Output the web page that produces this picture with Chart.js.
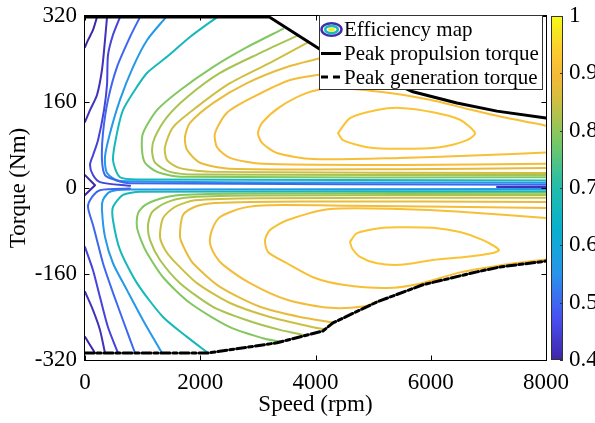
<!DOCTYPE html>
<html><head><meta charset="utf-8">
<script src="https://cdn.jsdelivr.net/npm/chart.js@4.4.1/dist/chart.umd.min.js"></script>
<style>html,body{margin:0;padding:0;background:#fff;}#wrap{width:595px;height:423px;}</style>
</head><body><div id="wrap"><canvas id="c" width="595" height="423"></canvas></div>
<script>
// ---------------- data ----------------
const speedTicks = [0, 2000, 4000, 6000, 8000];
const torqueTicks = [-320, -160, 0, 160, 320];
const efficiencyTicks = [0.4, 0.5, 0.6, 0.7, 0.8, 0.9, 1];
const legendLabels = ['Efficiency map', 'Peak propulsion torque', 'Peak generation torque'];

// [speed rpm, torque Nm]
const peakPropulsion = [[0,318],[3200,318],[4077,258],[5691,179],[6454,158],[7148,143],[8000,130]];
const peakGeneration = [[0,-307],[2134,-307],[3331,-288],[4129,-266],[4303,-251],[5066,-212],[5864,-180],[6801,-156],[7200,-147],[8000,-136]];

// efficiency contour lines, [speed rpm, torque Nm]
const eff040_up  = [[208,318],[139,294],[52,275],[0,262]];
const eff040_mid = [[0,24],[174,5],[0,-13]];
const eff040_low = [[0,-277],[87,-292],[174,-307]];
const eff042_up  = [[382,318],[347,275],[295,220],[208,173],[87,145],[0,123]];
const eff042_mid = [[7150,2],[8000,2]];
const eff042_low = [[0,-193],[139,-227],[260,-264],[347,-307]];
const eff045_up  = [[607,318],[486,285],[399,247],[382,192],[330,145],[226,89],[139,61],[87,43],[139,24],[260,11],[781,4]];
const eff045_low = [[0,-110],[139,-153],[260,-203],[399,-259],[573,-307]];
const eff050_up  = [[954,318],[781,281],[555,225],[399,164],[312,102],[295,52],[347,24],[521,15],[781,9],[8000,6]];
const eff050_low = [[781,-1],[260,-4],[121,-17],[52,-35],[139,-69],[208,-97],[312,-140],[486,-195],[659,-246],[868,-307]];
const eff056_up  = [[1406,318],[1076,275],[833,225],[607,164],[434,102],[347,58],[382,28],[607,13],[8000,10]];
const eff056_low = [[8000,-2],[781,-3],[434,-7],[312,-22],[295,-41],[347,-91],[486,-140],[729,-190],[1007,-246],[1336,-307]];
const eff067_up  = [[2291,318],[1822,281],[1423,244],[1076,214],[833,177],[659,145],[555,102],[486,52],[607,20],[954,16],[8000,14]];
const eff067_low = [[8000,-6],[954,-7],[659,-13],[486,-35],[486,-60],[607,-115],[902,-177],[1354,-240],[1770,-277],[2135,-307]];
const eff079_up  = [[3436,296],[2811,262],[2221,225],[1649,182],[1249,145],[1007,102],[989,71],[1041,47],[1249,30],[1649,21],[8000,20]];
const eff079_low = [[8000,-9],[2863,-10],[1649,-13],[1302,-20],[1041,-32],[920,-47],[902,-73],[972,-97],[1076,-121],[1354,-166],[1822,-214],[2516,-259],[3072,-279],[3384,-286]];
const eff082_up  = [[3679,283],[3037,251],[2343,214],[1770,169],[1423,132],[1215,95],[1163,71],[1215,47],[1475,30],[1944,25],[8000,24]];
const eff082_low = [[8000,-13],[2863,-14],[1735,-18],[1388,-28],[1163,-45],[1093,-69],[1128,-97],[1302,-134],[1649,-177],[2221,-221],[2811,-246],[3384,-264],[3818,-274]];
const eff085_up  = [[3853,270],[3210,233],[2516,195],[1944,151],[1527,113],[1388,76],[1423,52],[1649,37],[2221,30],[8000,28]];
const eff085_low = [[8000,-18],[3037,-19],[1909,-23],[1562,-35],[1354,-56],[1302,-91],[1388,-115],[1527,-134],[1944,-177],[2516,-214],[3210,-240],[3957,-259],[4165,-263]];
const eff088_up  = [[4252,246],[3506,225],[2811,195],[2221,158],[1822,121],[1735,95],[1770,71],[1996,47],[2516,36],[5467,35],[8000,37]];
const eff088_low = [[8000,-26],[3731,-25],[2256,-28],[1909,-35],[1701,-50],[1649,-91],[1735,-115],[1874,-140],[2343,-184],[3037,-221],[3731,-240],[4304,-250]];
const eff090_up  = [[4600,222],[4252,214],[3558,201],[2915,169],[2464,140],[2256,102],[2291,76],[2516,56],[3090,45],[5467,43],[8000,45]];
const eff090_low = [[8000,-37],[4599,-33],[3210,-32],[2742,-37],[2343,-54],[2204,-78],[2169,-102],[2256,-125],[2397,-143],[2863,-177],[3506,-208],[4252,-223],[4859,-220],[5067,-211]];
const eff091_up  = [[8000,116],[7202,133],[6681,146],[5987,164],[5119,179],[4252,186],[3853,177],[3384,151],[3072,121],[3002,102],[3072,84],[3332,65],[3957,54],[5467,56],[6855,61],[8000,66]];
const eff091_low = [[8000,-56],[6629,-45],[5467,-39],[4252,-39],[3506,-60],[3210,-78],[3124,-97],[3176,-119],[3506,-140],[3957,-166],[4477,-180],[5241,-186],[5814,-178],[6508,-157],[7202,-144],[8000,-133]];
const eff092_up  = [[4391,102],[4599,130],[5067,145],[5467,149],[6039,141],[6508,127],[6768,102],[6629,89],[6161,76],[5467,73],[4894,76],[4477,89],[4391,102]];
const eff092_low = [[4599,-100],[4720,-84],[5171,-74],[5467,-73],[6039,-74],[6508,-82],[6907,-97],[7185,-115],[7080,-121],[6629,-128],[6039,-134],[5467,-143],[5067,-140],[4772,-128],[4634,-112],[4599,-100]];

const contourLevels = [0.40,0.40,0.40,0.42,0.42,0.42,0.45,0.45,0.50,0.50,0.56,0.56,0.67,0.67,0.79,0.79,0.82,0.82,0.85,0.85,0.88,0.88,0.90,0.90,0.91,0.91,0.92,0.92];
const contourLines  = [eff040_up,eff040_mid,eff040_low,eff042_up,eff042_mid,eff042_low,eff045_up,eff045_low,eff050_up,eff050_low,eff056_up,eff056_low,eff067_up,eff067_low,eff079_up,eff079_low,eff082_up,eff082_low,eff085_up,eff085_low,eff088_up,eff088_low,eff090_up,eff090_low,eff091_up,eff091_low,eff092_up,eff092_low];

// ---------------- style ----------------
const CB_MIN = 0.4, CB_MAX = 1.0;
const parulaStops = [[0,62,38,168],[0.127,72,82,244],[0.254,39,150,235],[0.381,8,176,205],[0.508,35,190,170],[0.635,120,200,100],[0.762,214,190,62],[0.825,243,186,58],[0.889,254,200,49],[0.952,245,229,34],[1,249,251,21]];
function parula(f){
  f = Math.max(0, Math.min(1, f));
  for (let i = 1; i < parulaStops.length; i++){
    const a = parulaStops[i-1], b = parulaStops[i];
    if (f <= b[0]){
      const t = (f - a[0]) / (b[0] - a[0]);
      const c = [1,2,3].map(k => Math.round(a[k] + (b[k]-a[k])*t));
      return `rgb(${c[0]},${c[1]},${c[2]})`;
    }
  }
  return 'rgb(249,251,21)';
}
const levelColor = v => parula((v - CB_MIN)/(CB_MAX - CB_MIN));
const FONT = '"Liberation Serif", "Times New Roman", Times, serif';
const axisFont = {family: FONT, size: 23};
const toXY = arr => arr.map(p => ({x: p[0], y: p[1]}));
const hiddenGrid = len => ({display: true, drawOnChartArea: false, drawTicks: true, tickLength: len, color: 'rgba(0,0,0,0)'});

const datasets = [
  {label: legendLabels[1], data: toXY(peakPropulsion), borderColor: '#000', borderWidth: 3, tension: 0},
  {label: legendLabels[2], data: toXY(peakGeneration), borderColor: '#000', borderWidth: 3, borderDash: [9,3,4,3], tension: 0}
];
contourLines.forEach((line, i) => {
  datasets.push({label: legendLabels[0], data: toXY(line), borderColor: levelColor(contourLevels[i]), borderWidth: 2, tension: line.length > 3 ? 0.25 : 0});
});

const decor = {
  id: 'decor',
  beforeDatasetsDraw(chart){
    const {ctx, chartArea: a, scales: {cb}} = chart;
    const x0 = a.right + 5, w = 12;
    const yTop = cb.getPixelForValue(CB_MAX), yBot = cb.getPixelForValue(CB_MIN);
    const g = ctx.createLinearGradient(0, yBot, 0, yTop);
    for (let i = 0; i <= 40; i++){ g.addColorStop(i/40, parula(i/40)); }
    ctx.save();
    ctx.fillStyle = g;
    ctx.fillRect(x0, yTop, w, yBot - yTop);
    ctx.strokeStyle = '#333'; ctx.lineWidth = 1;
    ctx.strokeRect(x0 + 0.5, yTop + 0.5, w - 1, yBot - yTop - 1);
    efficiencyTicks.forEach(v => {
      const yy = Math.round(cb.getPixelForValue(v)) + 0.5;
      ctx.beginPath(); ctx.moveTo(x0 + w, yy); ctx.lineTo(x0 + w - 3, yy); ctx.stroke();
    });
    ctx.restore();
  },
  afterDatasetsDraw(chart){
    const {ctx, chartArea: a, scales: {x, y}} = chart;
    ctx.save();
    ctx.strokeStyle = '#000'; ctx.lineWidth = 1;
    const L = a.left - 0.5, R = a.right + 0.5, T = a.top - 0.5, B = a.bottom + 0.5;
    ctx.strokeRect(L, T, R - L, B - T);
    const tl = 5;
    ctx.beginPath();
    speedTicks.forEach(v => {
      const px = Math.round(x.getPixelForValue(v)) + 0.5;
      ctx.moveTo(px, B); ctx.lineTo(px, B - tl);
      ctx.moveTo(px, T); ctx.lineTo(px, T + tl);
    });
    torqueTicks.forEach(v => {
      const py = Math.round(y.getPixelForValue(v)) + 0.5;
      ctx.moveTo(L, py); ctx.lineTo(L + tl, py);
      ctx.moveTo(R, py); ctx.lineTo(R - tl, py);
    });
    ctx.stroke();

    // legend
    const bx = 319.5, by = 15.5, bw = 223, bh = 74;
    ctx.fillStyle = '#fff';
    ctx.fillRect(bx, by, bw, bh);
    ctx.strokeStyle = '#333'; ctx.lineWidth = 1;
    ctx.strokeRect(bx, by, bw, bh);
    const rows = [29.5, 53.5, 77];
    const cx = 331.5;
    ctx.lineWidth = 2.5;
    ctx.strokeStyle = parula(0.02);
    ctx.beginPath(); ctx.ellipse(cx, rows[0], 10, 6.3, 0, 0, Math.PI*2); ctx.stroke();
    ctx.strokeStyle = parula(0.47);
    ctx.beginPath(); ctx.ellipse(cx, rows[0], 6.3, 3.6, 0, 0, Math.PI*2); ctx.stroke();
    ctx.fillStyle = parula(0.97);
    ctx.beginPath(); ctx.ellipse(cx, rows[0], 3.5, 1.8, 0, 0, Math.PI*2); ctx.fill();
    ctx.strokeStyle = '#000'; ctx.lineWidth = 3;
    ctx.beginPath(); ctx.moveTo(321, rows[1]); ctx.lineTo(341, rows[1]); ctx.stroke();
    ctx.setLineDash([7,5]);
    ctx.beginPath(); ctx.moveTo(321, rows[2]); ctx.lineTo(341, rows[2]); ctx.stroke();
    ctx.setLineDash([]);
    ctx.fillStyle = '#000';
    ctx.font = '21px ' + FONT;
    ctx.textBaseline = 'middle'; ctx.textAlign = 'left';
    legendLabels.forEach((t, i) => ctx.fillText(t, 344, rows[i] + 1));
    ctx.restore();
  }
};

new Chart(document.getElementById('c'), {
  type: 'scatter',
  data: {datasets},
  options: {
    responsive: false, animation: false, devicePixelRatio: 1,
    layout: {padding: {top: 16, left: 0, right: 0, bottom: 0}},
    showLine: true,
    plugins: {legend: {display: false}, tooltip: {enabled: false}},
    elements: {point: {radius: 0, hoverRadius: 0}, line: {borderCapStyle: 'round', borderJoinStyle: 'round', fill: false}},
    datasets: {scatter: {showLine: true}},
    scales: {
      x: {
        type: 'linear', min: 0, max: 8000,
        afterBuildTicks: s => { s.ticks = speedTicks.map(v => ({value: v})); },
        ticks: {font: axisFont, color: '#000', padding: 0, maxRotation: 0, autoSkip: false, callback: v => String(v)},
        grid: hiddenGrid(9), border: {display: false},
        title: {display: true, text: 'Speed (rpm)', font: axisFont, color: '#000', padding: {top: 4, bottom: 4}},
        afterFit: s => { s.height = 63; }
      },
      y: {
        type: 'linear', position: 'left', min: -320, max: 320,
        afterBuildTicks: s => { s.ticks = torqueTicks.map(v => ({value: v})); },
        ticks: {font: axisFont, color: '#000', padding: 0, autoSkip: false, callback: v => String(v)},
        grid: hiddenGrid(8), border: {display: false},
        title: {display: true, text: 'Torque (Nm)', font: axisFont, color: '#000', padding: {top: 5, bottom: 5}},
        afterFit: s => { s.width = 85; }
      },
      cb: {
        type: 'linear', position: 'right', min: CB_MIN, max: CB_MAX,
        afterBuildTicks: s => { s.ticks = efficiencyTicks.map(v => ({value: v})); },
        ticks: {font: axisFont, color: '#000', padding: 0, autoSkip: false, callback: v => (v === 1 ? '1' : v.toFixed(1))},
        grid: hiddenGrid(23), border: {display: false},
        afterFit: s => { s.width = 49; }
      }
    }
  },
  plugins: [decor]
});
</script>
</body></html>
